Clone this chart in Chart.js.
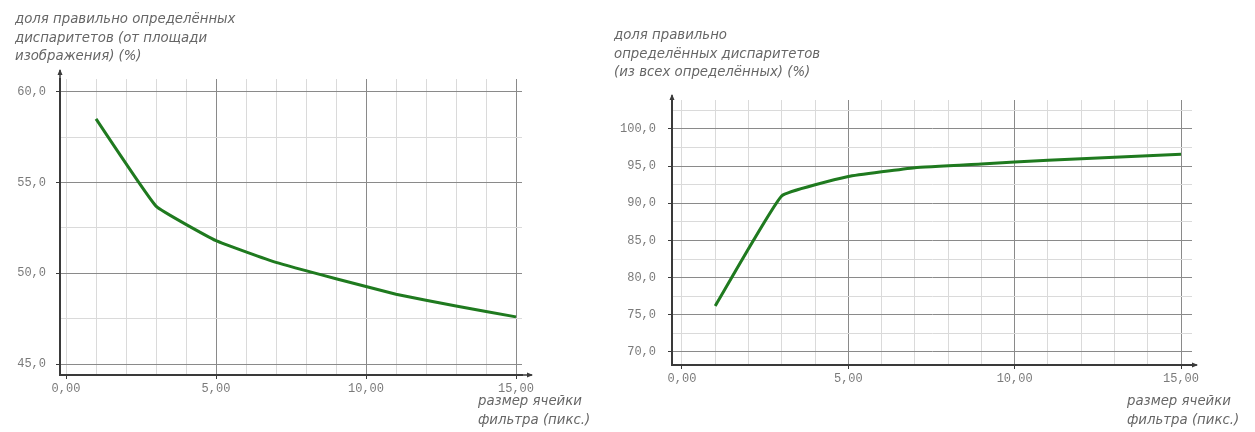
<!DOCTYPE html>
<html>
  <head>
    <title>Доля правильно определённых диспаритетов</title>
    <meta charset="UTF-8" />
    <script src="https://cdn.jsdelivr.net/npm/chart.js"></script>
    <style>
      body { margin: 0; background: #fff; width: 1255px; height: 432px; position: relative; overflow: hidden; }
      canvas { position: absolute; top: 0; }
      .ttl {
        position: absolute;
        font-family: "DejaVu Sans", sans-serif;
        font-style: italic;
        font-size: 13.3px;
        line-height: 18.5px;
        color: #666;
        white-space: nowrap;
      }
    </style>
  </head>

  <body>
    <canvas id="leftChart" width="600" height="432" style="left:0"></canvas>
    <canvas id="rightChart" width="655" height="432" style="left:600px"></canvas>

    <div class="ttl" style="left:15px; top:10px">доля правильно определённых<br>диспаритетов (от площади<br>изображения) (%)</div>
    <div class="ttl" style="left:478px; top:392px">размер ячейки<br>фильтра (пикс.)</div>

    <div class="ttl" style="left:614px; top:26px">доля правильно<br>определённых диспаритетов<br>(из всех определённых) (%)</div>
    <div class="ttl" style="left:1127px; top:392px">размер ячейки<br>фильтра (пикс.)</div>

    <script>
      // filter cell size (pixels)
      const filterSize = [1, 3, 5, 7, 9, 11, 13, 15];
      // share of correctly found disparities, % of image area
      const shareOfArea = [58.5, 53.7, 51.8, 50.6, 49.7, 48.85, 48.2, 47.6];
      // share of correctly found disparities, % of all found
      const shareOfFound = [76.2, 91.0, 93.6, 94.8, 95.3, 95.8, 96.2, 96.6];

      // grid / tick positions
      const xTicks = [0, 1, 2, 3, 4, 5, 6, 7, 8, 9, 10, 11, 12, 13, 14, 15];
      const leftYTicks = [45, 47.5, 50, 52.5, 55, 57.5, 60];
      const rightYTicks = [70, 72.5, 75, 77.5, 80, 82.5, 85, 87.5, 90, 92.5, 95, 97.5, 100, 102.5];

      const MAJOR = '#8a8a8a';
      const MINOR = '#dadada';
      const AXIS = '#3a3a3a';

      const isMajor = v => Math.abs(v % 5) < 1e-9;

      // arrow heads at the ends of both axes
      const axisArrows = {
        id: 'axisArrows',
        afterDraw(chart, args, opts) {
          const { ctx, chartArea: { left, right, top, bottom } } = chart;
          ctx.save();
          ctx.strokeStyle = AXIS;
          ctx.fillStyle = AXIS;
          ctx.lineWidth = 1.5;
          // y axis
          const yTip = top - opts.up;
          ctx.beginPath();
          ctx.moveTo(left, top);
          ctx.lineTo(left, yTip);
          ctx.stroke();
          ctx.beginPath();
          ctx.moveTo(left, yTip - 1);
          ctx.lineTo(left - 2.5, yTip + 5);
          ctx.lineTo(left + 2.5, yTip + 5);
          ctx.closePath();
          ctx.fill();
          // x axis
          const xTip = right + opts.side;
          ctx.beginPath();
          ctx.moveTo(right, bottom);
          ctx.lineTo(xTip, bottom);
          ctx.stroke();
          ctx.beginPath();
          ctx.moveTo(xTip + 1, bottom);
          ctx.lineTo(xTip - 5, bottom - 2.5);
          ctx.lineTo(xTip - 5, bottom + 2.5);
          ctx.closePath();
          ctx.fill();
          ctx.restore();
        }
      };

      function makeChart(id, values, yTicks, o) {
        const ctx = document.getElementById(id).getContext('2d');
        return new Chart(ctx, {
          type: 'line',
          data: {
            datasets: [{
              data: filterSize.map((x, i) => ({ x: x, y: values[i] })),
              borderColor: '#1f7a1f',
              borderWidth: 3,
              pointRadius: 0,
              tension: 0.1,
              fill: false
            }]
          },
          options: {
            responsive: false,
            animation: false,
            layout: { padding: o.padding },
            plugins: {
              legend: { display: false },
              tooltip: { enabled: false },
              axisArrows: o.arrows
            },
            scales: {
              x: {
                type: 'linear',
                min: o.xMin,
                max: o.xMax,
                afterBuildTicks: s => { s.ticks = xTicks.map(v => ({ value: v })); },
                afterFit: s => { s.height = o.xHeight; },
                border: { color: AXIS, width: 2 },
                grid: {
                  color: c => (isMajor(c.tick.value) && c.tick.value !== 0 ? MAJOR : MINOR),
                  tickColor: c => (isMajor(c.tick.value) ? AXIS : 'rgba(0,0,0,0)'),
                  tickLength: 4,
                  lineWidth: 1
                },
                ticks: {
                  autoSkip: false,
                  maxRotation: 0,
                  padding: 3,
                  color: '#7a7a7a',
                  font: { family: '"Liberation Mono", monospace', size: 12 },
                  callback: v => (isMajor(v) ? v.toFixed(2).replace('.', ',') : '')
                }
              },
              y: {
                type: 'linear',
                min: o.yMin,
                max: o.yMax,
                afterBuildTicks: s => { s.ticks = yTicks.map(v => ({ value: v })); },
                afterFit: s => { s.width = o.yWidth; },
                border: { color: AXIS, width: 2 },
                grid: {
                  color: c => (isMajor(c.tick.value) ? MAJOR : MINOR),
                  tickColor: c => (isMajor(c.tick.value) ? AXIS : 'rgba(0,0,0,0)'),
                  tickLength: 4,
                  lineWidth: 1
                },
                ticks: {
                  autoSkip: false,
                  padding: o.yPad,
                  color: '#7a7a7a',
                  font: { family: '"Liberation Mono", monospace', size: 12 },
                  callback: v => (isMajor(v) ? v.toFixed(1).replace('.', ',') : '')
                }
              }
            }
          },
          plugins: [axisArrows]
        });
      }

      makeChart('leftChart', shareOfArea, leftYTicks, {
        xMin: -0.2, xMax: 15.2, yMin: 44.4, yMax: 60.7,
        padding: { left: 0, top: 79, right: 78, bottom: 0 },
        yWidth: 60, xHeight: 57, yPad: 10,
        arrows: { up: 9, side: 10 }
      });

      makeChart('rightChart', shareOfFound, rightYTicks, {
        xMin: -0.3, xMax: 15.33, yMin: 68.25, yMax: 103.9,
        padding: { left: 0, top: 100, right: 63, bottom: 0 },
        yWidth: 72, xHeight: 67, yPad: 12,
        arrows: { up: 5, side: 5 }
      });
    </script>
  </body>
</html>
